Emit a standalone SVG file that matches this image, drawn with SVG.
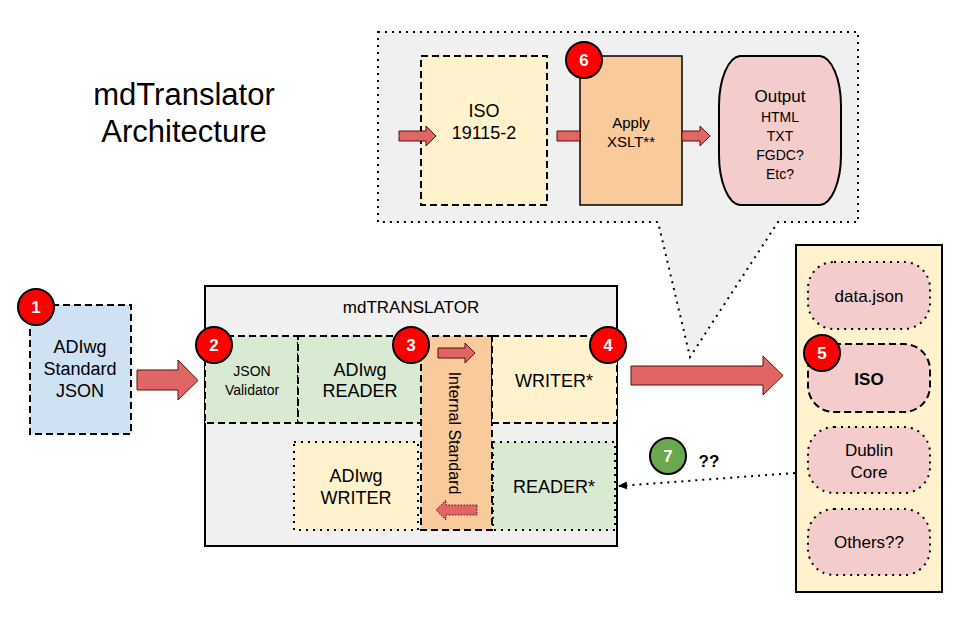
<svg xmlns="http://www.w3.org/2000/svg" width="960" height="625" viewBox="0 0 960 625">
<defs>
<style>
text{font-family:"Liberation Sans",Arial,sans-serif;fill:#000;text-anchor:middle}
.dash{stroke:#000;stroke-width:2;stroke-dasharray:7,4}
.dot{stroke:#000;stroke-width:2;stroke-dasharray:2,5}
.solid{stroke:#000;stroke-width:2}
.arr{fill:#e06666;stroke:#5b0f00;stroke-width:1}
.badge{fill:#ff0000;stroke:#000;stroke-width:2}
.bt{fill:#fff;font-weight:bold;font-size:17px}
</style>
<marker id="ah" markerWidth="10" markerHeight="10" refX="8" refY="5" orient="auto" markerUnits="userSpaceOnUse">
<path d="M0,1 L9,5 L0,9 Z" fill="#000"/>
</marker>
</defs>
<rect width="960" height="625" fill="#fff"/>

<g id="title">
<text x="184" y="105" font-size="31">mdTranslator</text>
<text x="184" y="142" font-size="31">Architecture</text>
</g>

<g id="callout">
<path d="M378,32 H858 V222 H778 L690,357 L658,222 H378 Z" fill="#eff0ef" class="dot"/>
</g>

<g id="iso19115">
<rect x="421" y="56" width="126" height="149" fill="#fff2cc" class="dash"/>
<text x="484" y="117" font-size="18">ISO</text>
<text x="484" y="139" font-size="18">19115-2</text>
</g>
<g id="xslt">
<rect x="580" y="56" width="102" height="149" fill="#f9cb9c" stroke="#000" stroke-width="1.5"/>
<text x="631" y="128" font-size="15">Apply</text>
<text x="631" y="147" font-size="15">XSLT**</text>
</g>
<g id="output">
<path d="M740,56 H820 A22,50 0 0 1 841,106 V155 A22,50 0 0 1 820,205 H740 A22,50 0 0 1 719,155 V106 A22,50 0 0 1 740,56 Z" fill="#f4cccc" class="solid"/>
<text x="780" y="102" font-size="17">Output</text>
<text x="780" y="122" font-size="14">HTML</text>
<text x="780" y="141" font-size="14">TXT</text>
<text x="780" y="160" font-size="14">FGDC?</text>
<text x="780" y="179" font-size="14">Etc?</text>
</g>

<g id="adiwg-json">
<rect x="30" y="305" width="101" height="129" fill="#cfe2f3" class="dash"/>
<text x="80" y="353" font-size="18">ADIwg</text>
<text x="80" y="375" font-size="18">Standard</text>
<text x="80" y="397" font-size="18">JSON</text>
</g>

<g id="mdtranslator">
<rect x="205" y="286" width="412" height="260" fill="#eff0ef" class="solid"/>
<text x="411" y="313" font-size="17">mdTRANSLATOR</text>
</g>
<g id="json-validator">
<rect x="205" y="336" width="93" height="87" fill="#d9ead3" class="dash"/>
<text x="252" y="376" font-size="14">JSON</text>
<text x="252" y="395" font-size="14">Validator</text>
</g>
<g id="adiwg-reader">
<rect x="298" y="336" width="124" height="87" fill="#d9ead3" class="dash"/>
<text x="360" y="376" font-size="18">ADIwg</text>
<text x="360" y="397" font-size="18">READER</text>
</g>
<g id="internal-standard">
<rect x="421" y="336" width="71" height="194" fill="#f9cb9c" class="dash"/>
<text x="0" y="0" font-size="16" transform="translate(449,433) rotate(90)">Internal Standard</text>
</g>
<g id="writer">
<rect x="492" y="336" width="125" height="87" fill="#fff2cc" class="dash"/>
<text x="554" y="387" font-size="18">WRITER*</text>
</g>
<g id="adiwg-writer">
<rect x="294" y="442" width="124" height="88" fill="#fff2cc" class="dot"/>
<text x="356" y="482" font-size="18">ADIwg</text>
<text x="356" y="504" font-size="18">WRITER</text>
</g>
<g id="reader">
<rect x="493" y="442" width="122" height="88" fill="#d9ead3" class="dot"/>
<text x="554" y="493" font-size="18">READER*</text>
</g>

<g id="targets">
<rect x="796" y="245" width="146" height="347" fill="#fff2cc" class="solid"/>
</g>
<g id="data-json">
<rect x="808" y="262" width="122" height="67" rx="26" fill="#f4cccc" class="dot"/>
<text x="869" y="302" font-size="17">data.json</text>
</g>
<g id="iso">
<rect x="808" y="344" width="122" height="68" rx="26" fill="#f4cccc" class="dash"/>
<text x="869" y="385" font-size="17" font-weight="bold">ISO</text>
</g>
<g id="dublin-core">
<rect x="808" y="427" width="122" height="66" rx="26" fill="#f4cccc" class="dot"/>
<text x="869" y="456" font-size="17">Dublin</text>
<text x="869" y="478" font-size="17">Core</text>
</g>
<g id="others">
<rect x="808" y="509" width="122" height="66" rx="26" fill="#f4cccc" class="dot"/>
<text x="869" y="548" font-size="17">Others??</text>
</g>

<g id="connectors">
<path class="arr" d="M137,370 H178 V360 L198,380.5 L178,400 V390 H137 Z"/>
<path class="arr" d="M631,366 H763 V356 L783,375.5 L763,395 V385 H631 Z"/>
<path class="arr" d="M399,131 H426 V126 L436,136 L426,146 V141 H399 Z"/>
<path class="arr" d="M557,131 H580 V141 H557 Z"/>
<path class="arr" d="M682,131 H700 V126 L710,136 L700,146 V141 H682 Z"/>
<path class="arr" d="M438,348 H465 V343 L475,353 L465,363 V358 H438 Z"/>
<path d="M477,505 H446 V500 L436,510 L446,520 V515 H477 Z" fill="#e06666" stroke="#5b0f00" stroke-width="1" stroke-dasharray="1.5,1.5"/>
<line x1="795" y1="473" x2="619" y2="486" class="dot" marker-end="url(#ah)"/>
</g>

<g id="badges">
<circle cx="36" cy="307" r="18" class="badge"/><text x="36" y="313" class="bt">1</text>
<circle cx="214" cy="345" r="18" class="badge"/><text x="214" y="351" class="bt">2</text>
<circle cx="411" cy="345" r="18" class="badge"/><text x="411" y="351" class="bt">3</text>
<circle cx="608" cy="345" r="18" class="badge"/><text x="608" y="351" class="bt">4</text>
<circle cx="822" cy="353" r="18" class="badge"/><text x="822" y="359" class="bt">5</text>
<circle cx="584" cy="60" r="18" class="badge"/><text x="584" y="66" class="bt">6</text>
<circle cx="668" cy="456" r="18" fill="#6aa84f" stroke="#000" stroke-width="2"/><text x="668" y="462" class="bt">7</text>
<text x="709" y="467" font-size="17" font-weight="bold">??</text>
</g>
</svg>
